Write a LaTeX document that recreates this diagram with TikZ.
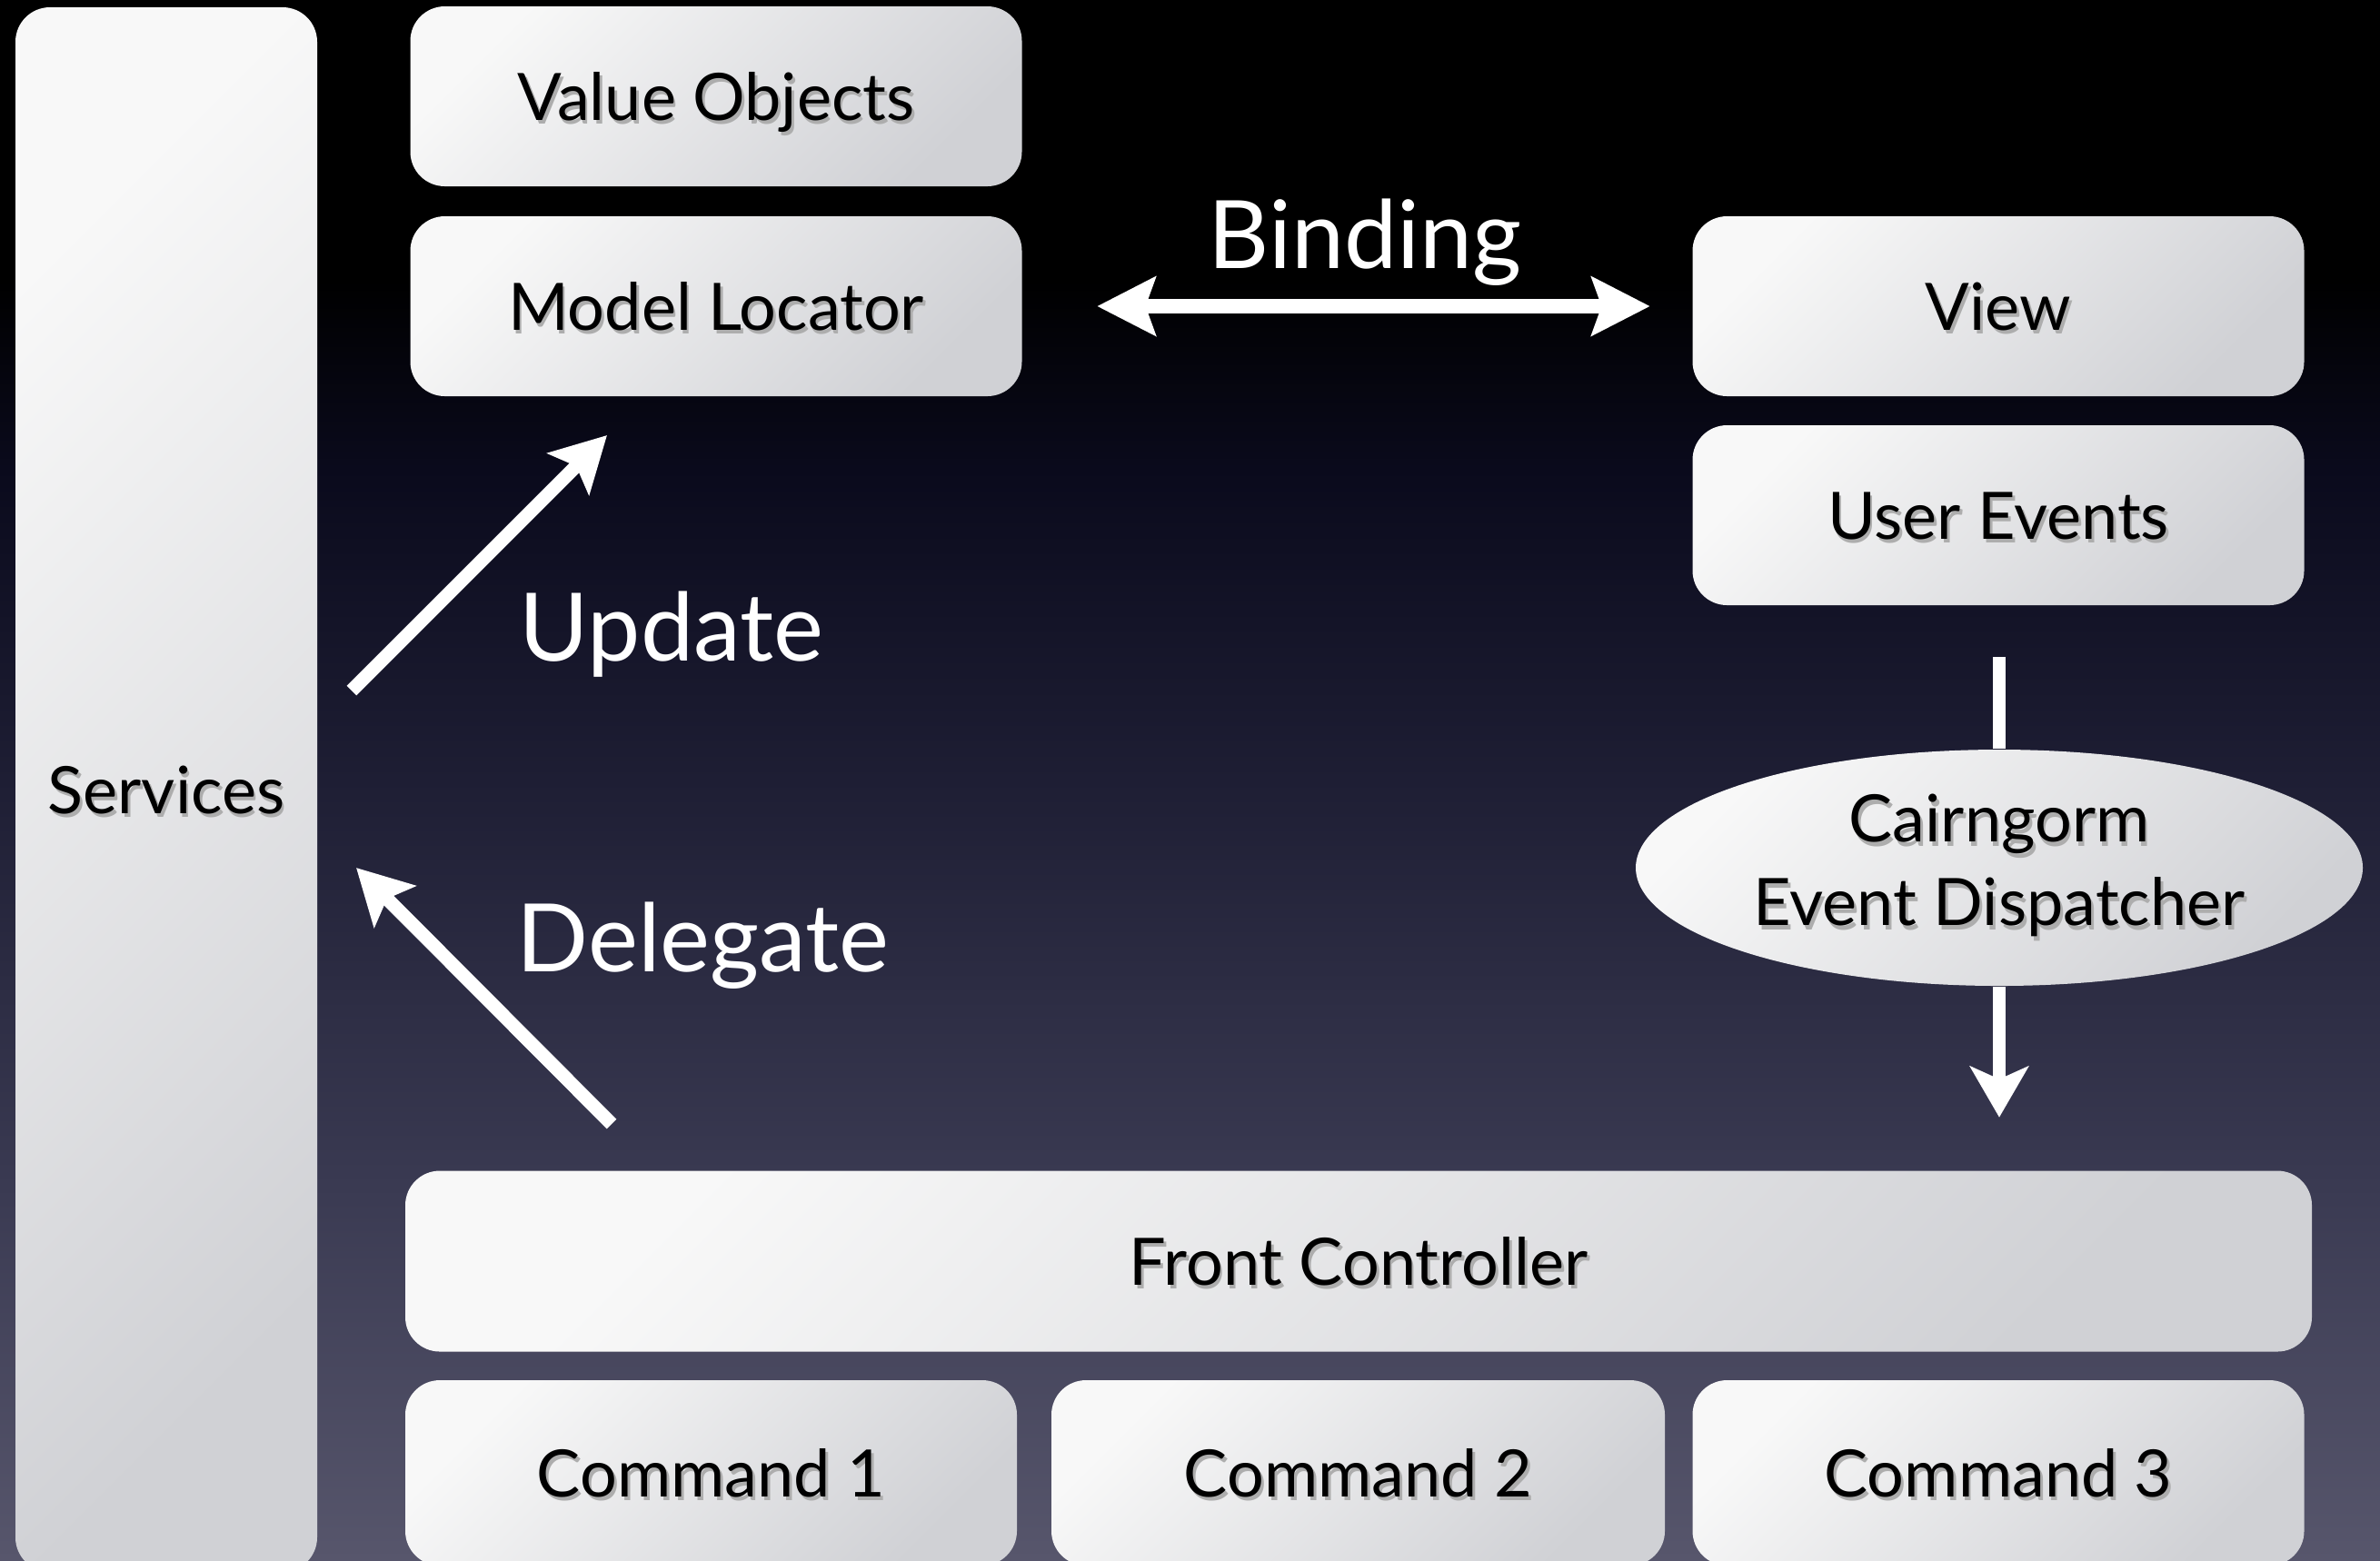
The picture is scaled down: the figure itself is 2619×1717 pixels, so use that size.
\documentclass[tikz,border=0pt]{standalone}
\usepackage{fontspec}
\setmainfont{Lato}
\usetikzlibrary{arrows.meta,shapes.geometric}
\definecolor{bgbot}{HTML}{57566C}
\definecolor{bglow}{HTML}{3A3A52}
\definecolor{bgmid}{HTML}{1E1E34}
\definecolor{bgdark}{HTML}{0A0A1C}
\definecolor{boxtop}{HTML}{F8F8F8}
\definecolor{boxbot}{HTML}{D0D1D5}
\pgfdeclareverticalshading{bgshade}{100bp}{color(0bp)=(bgbot); color(25bp)=(bgbot); color(37bp)=(bglow); color(50bp)=(bgmid); color(60bp)=(bgdark); color(66bp)=(black); color(100bp)=(black)}
\newcommand{\shtxt}[1]{\makebox[0pt][l]{\hspace{0.7pt}\raisebox{-1.1pt}{\textcolor{black!32}{#1}}}#1}
\tikzset{
  box/.style={rounded corners=9.5pt, top color=boxtop, bottom color=boxbot, shading angle=45,
    inner sep=0pt, text height=13pt, text depth=0pt, font=\fontsize{18pt}{21pt}\selectfont, text=black},
  bigbox/.style={box, minimum width=168.25pt, minimum height=49.5pt},
  disp/.style={ellipse, top color=boxtop, bottom color=boxbot, shading angle=45, inner sep=0pt,
    minimum width=200pt, minimum height=65pt, align=center, font=\fontsize{18pt}{23pt}\selectfont},
  biglabel/.style={text=white, inner sep=0pt, font=\fontsize{26pt}{30pt}\selectfont},
  warrow/.style={draw=white, line width=3.75pt, -{Stealth[length=15pt, width=16pt, inset=3pt]}},
  wline/.style={draw=white, line width=3.5pt}
}
\begin{document}
\begin{tikzpicture}[x=0.25pt, y=-0.25pt]
\useasboundingbox (0,0) rectangle (2619,1717);
\shade[shading=bgshade] (0,0) rectangle (2619,1717);
\clip (0,0) rectangle (2619,1717);

% boxes
\node[box, minimum width=83pt, minimum height=430.5pt] (srv) at (183,869) {\shtxt{Services}};
\node[bigbox] (vo) at (788,106) {\shtxt{Value Objects}};
\node[bigbox] (ml) at (788,337) {\shtxt{Model Locator}};
\node[bigbox] (view) at (2199,337) {\shtxt{View}};
\node[bigbox] (ue) at (2199,567) {\shtxt{User Events}};
\node[box, minimum width=524.5pt, minimum height=49.75pt] (fc) at (1495,1388) {\shtxt{Front Controller}};
\node[box, minimum width=168.25pt, minimum height=51pt] (c1) at (782.5,1621) {\shtxt{Command 1}};
\node[box, minimum width=168.75pt, minimum height=51pt] (c2) at (1494.5,1621) {\shtxt{Command 2}};
\node[box, minimum width=168.25pt, minimum height=51pt] (c3) at (2199,1621) {\shtxt{Command 3}};
\node[disp] (ced) at (2200,955) {\shtxt{Cairngorm}\\\shtxt{Event Dispatcher}};

% labels
\node[biglabel, anchor=base] (lbind) at (1502,295) {Binding};
\node[biglabel, anchor=base west] (lupd) at (571,727) {Update};
\node[biglabel, anchor=base west] (ldel) at (568,1069) {Delegate};

% connectors
\draw[draw=white, line width=4pt, {Stealth[length=16pt, width=16pt, inset=2.7pt]}-{Stealth[length=16pt, width=16pt, inset=2.7pt]},
  shorten <=20.5pt, shorten >=11.5pt] (ml.east) -- (view.west);
\coordinate (ut) at (387,760);
\coordinate (uh) at (668,479);
\draw[warrow] (ut) -- (uh);
\coordinate (dt) at (673,1237);
\coordinate (dh) at (392,955);
\draw[warrow] (dt) -- (dh);
\draw[wline, shorten <=14pt] (ced.north |- ue.south) -- (ced.north);
\draw[draw=white, line width=3.5pt, -{Stealth[length=14pt, width=16pt, inset=3.5pt]}, shorten >=14.5pt] (ced.south) -- (fc.north -| ced.south);
\end{tikzpicture}
\end{document}
